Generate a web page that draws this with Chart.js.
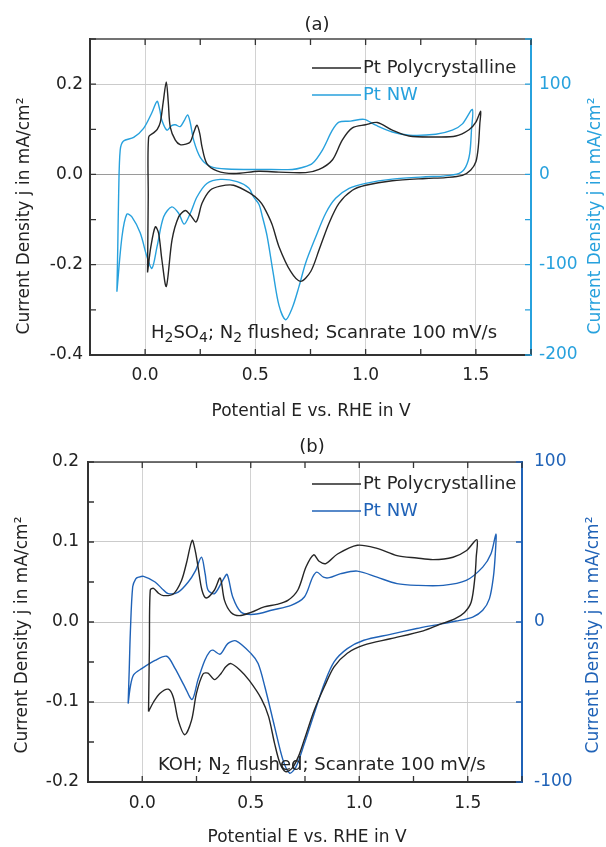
<!DOCTYPE html>
<html>
<head>
<meta charset="utf-8">
<script src="https://cdn.jsdelivr.net/npm/chart.js@4.4.1/dist/chart.umd.min.js"></script>
<style>
  html, body { margin: 0; padding: 0; background: #fff; }
  #wrap { position: relative; width: 606px; height: 847px; }
  canvas { position: absolute; left: 0; }
  #chartA { top: 0; }
  #chartB { top: 423px; }
</style>
</head>
<body>
<div id="wrap">
  <canvas id="chartA" width="606" height="423"></canvas>
  <canvas id="chartB" width="606" height="424"></canvas>
</div>
<script>
// (a) H2SO4 - Pt Polycrystalline, left axis (mA/cm2)
const potA_poly = [0.011, 0.014, 0.016, 0.038, 0.055, 0.069, 0.082, 0.096, 0.105, 0.114,
  0.137, 0.159, 0.185, 0.205, 0.222, 0.235, 0.248, 0.258, 0.280, 0.326,
  0.401, 0.516, 0.607, 0.728, 0.789, 0.849, 0.894, 0.940, 1.000, 1.053,
  1.121, 1.197, 1.318, 1.409, 1.469, 1.500, 1.522,
  1.518, 1.511, 1.500, 1.477, 1.439, 1.363, 1.272, 1.121, 1.000, 0.940,
  0.879, 0.834, 0.789, 0.751, 0.705, 0.660, 0.607, 0.575, 0.538, 0.516,
  0.477, 0.401, 0.341, 0.295, 0.258, 0.232, 0.205, 0.182, 0.152, 0.122,
  0.096, 0.076, 0.061, 0.046, 0.026, 0.011];
const jA_poly = [-0.217, -0.050, 0.083, 0.092, 0.100, 0.116, 0.160, 0.205, 0.160, 0.105,
  0.076, 0.066, 0.067, 0.072, 0.095, 0.109, 0.090, 0.061, 0.024, 0.008,
  0.002, 0.007, 0.005, 0.004, 0.011, 0.032, 0.076, 0.103, 0.110, 0.115,
  0.098, 0.085, 0.083, 0.085, 0.099, 0.116, 0.140,
  0.113, 0.061, 0.028, 0.010, -0.002, -0.007, -0.009, -0.014, -0.024, -0.035,
  -0.064, -0.108, -0.167, -0.215, -0.237, -0.215, -0.160, -0.110, -0.072, -0.057,
  -0.042, -0.024, -0.026, -0.035, -0.064, -0.105, -0.090, -0.080, -0.094, -0.145,
  -0.248, -0.189, -0.130, -0.116, -0.160, -0.217];

// (a) H2SO4 - Pt NW, right axis
const potA_nw = [-0.128, -0.124, -0.120, -0.113, -0.098, -0.052, -0.007, 0.030, 0.054, 0.066,
  0.076, 0.099, 0.120, 0.137, 0.159, 0.178, 0.193, 0.205, 0.220, 0.250,
  0.295, 0.371, 0.538, 0.667, 0.713, 0.758, 0.804, 0.849, 0.879, 0.932,
  0.993, 1.046, 1.121, 1.197, 1.318, 1.393, 1.439, 1.484,
  1.480, 1.472, 1.454, 1.424, 1.348, 1.272, 1.121, 1.000, 0.925, 0.864,
  0.819, 0.774, 0.728, 0.698, 0.667, 0.637, 0.607, 0.580, 0.553, 0.530,
  0.516, 0.492, 0.470, 0.417, 0.341, 0.280, 0.235, 0.205, 0.177, 0.152,
  0.121, 0.084, 0.054, 0.031, 0.008, -0.022, -0.060, -0.083, -0.105, -0.128];
const jA_nw = [-130, -80, -21, 27, 37, 41, 51, 68, 81, 72,
  60, 49, 54, 55, 53, 60, 66, 57, 38, 19,
  9, 6, 5.5, 5.5, 7.7, 12, 27, 49, 58, 59,
  61, 54.5, 47, 43.5, 44.5, 49, 56, 72,
  49, 23, 8.4, 1.1, -1.9, -2.6, -5.2, -9.9, -15.5, -26.5,
  -43, -69, -98, -124, -148, -161, -145, -108, -68, -45,
  -33, -25, -15, -8, -5.5, -10, -25, -43, -55, -43,
  -36, -47, -80, -104, -91, -65, -47, -44, -69, -130];

// (b) KOH - Pt Polycrystalline, left axis
const potB_poly = [0.029, 0.033, 0.037, 0.052, 0.075, 0.097, 0.143, 0.181, 0.205, 0.230,
  0.245, 0.257, 0.275, 0.295, 0.333, 0.359, 0.379, 0.409, 0.447, 0.501,
  0.562, 0.620, 0.671, 0.717, 0.755, 0.790, 0.815, 0.846, 0.900, 0.991,
  1.082, 1.174, 1.265, 1.341, 1.432, 1.493, 1.542,
  1.539, 1.533, 1.516, 1.485, 1.440, 1.371, 1.295, 1.143, 1.021, 0.945,
  0.884, 0.839, 0.793, 0.747, 0.720, 0.690, 0.660, 0.635, 0.610, 0.582,
  0.549, 0.493, 0.450, 0.409, 0.385, 0.364, 0.333, 0.303, 0.280, 0.250,
  0.227, 0.196, 0.166, 0.143, 0.120, 0.082, 0.052, 0.029];
const jB_poly = [-0.112, -0.030, 0.040, 0.042, 0.036, 0.033, 0.035, 0.052, 0.075, 0.102,
  0.088, 0.069, 0.040, 0.030, 0.040, 0.055, 0.027, 0.012, 0.008, 0.012,
  0.019, 0.022, 0.027, 0.040, 0.069, 0.084, 0.076, 0.073, 0.085, 0.096,
  0.092, 0.083, 0.080, 0.078, 0.081, 0.089, 0.103,
  0.081, 0.056, 0.025, 0.012, 0.004, -0.003, -0.011, -0.021, -0.029, -0.039,
  -0.056, -0.081, -0.110, -0.147, -0.168, -0.183, -0.187, -0.177, -0.152, -0.118,
  -0.096, -0.073, -0.060, -0.052, -0.056, -0.064, -0.072, -0.064, -0.065, -0.089,
  -0.123, -0.141, -0.123, -0.094, -0.084, -0.089, -0.100, -0.112];

// (b) KOH - Pt NW, right axis
const potB_nw = [-0.065, -0.060, -0.055, -0.044, -0.030, -0.017, 0.006, 0.059, 0.090, 0.120,
  0.166, 0.212, 0.245, 0.273, 0.290, 0.303, 0.333, 0.371, 0.391, 0.417,
  0.455, 0.516, 0.600, 0.686, 0.747, 0.785, 0.805, 0.835, 0.862, 0.915,
  0.991, 1.082, 1.174, 1.265, 1.387, 1.493, 1.569, 1.607, 1.630,
  1.627, 1.618, 1.600, 1.569, 1.523, 1.447, 1.341, 1.265, 1.143, 1.021,
  0.945, 0.884, 0.839, 0.793, 0.747, 0.709, 0.679, 0.648, 0.610, 0.565,
  0.534, 0.501, 0.432, 0.394, 0.359, 0.326, 0.311, 0.288, 0.257, 0.230,
  0.196, 0.151, 0.113, 0.059, -0.001, -0.040, -0.055, -0.065];
const jB_nw = [-51, -30, -7, 22, 27, 28, 28.5, 25, 21, 17.7,
  18.7, 25, 32, 40.5, 30, 20, 17.7, 26, 29.7, 15.6,
  6.2, 4.8, 7.5, 10.4, 15.6, 28, 31.2, 28, 27.7, 30.2,
  31.8, 28, 24, 22.9, 22.9, 26, 34.3, 42.6, 55.1,
  42.6, 28, 14.6, 7.3, 3.1, 0.6, -2.1, -4.1, -7.7, -11.4,
  -16.6, -24.9, -38.4, -57, -76, -90.4, -94.5, -86, -65.5, -40.5,
  -26, -19.7, -11.8, -13.5, -20.1, -17.6, -18.5, -24, -36, -48.4,
  -40.5, -29, -21.4, -24, -29, -33, -40.5, -51];

const seriesNames = ['Pt Polycrystalline', 'Pt NW'];
const xTitle = 'Potential E vs. RHE in V';
const yTitle = 'Current Density j in mA/cm²';

const FONT = '"DejaVu Sans", sans-serif';
const black = '#262626';
const blueA = '#27a1dd';
const blueB = '#1f62b7';

Chart.defaults.font.family = FONT;
Chart.defaults.font.size = 17;
Chart.defaults.color = '#222';

const pts = (xs, ys) => xs.map((v, i) => ({x: v, y: ys[i]}));
const onStep = (v, step) => Math.abs(Math.round(v / step) * step - v) < 1e-6;

function drawRich(ctx, parts, x, y) {
  parts.forEach(p => {
    ctx.font = (p[1] ? '14px ' : '18px ') + FONT;
    ctx.fillText(p[0], x, p[1] ? y + 5 : y);
    x += ctx.measureText(p[0]).width;
  });
}

function vText(ctx, text, x, y, color) {
  ctx.save();
  ctx.translate(x, y);
  ctx.rotate(-Math.PI / 2);
  ctx.fillStyle = color;
  ctx.fillText(text, 0, 0);
  ctx.restore();
}

// frame, inward ticks, legend and labels
const decorate = {
  id: 'decorate',
  afterDraw(chart, args, o) {
    const ctx = chart.ctx, a = chart.chartArea;
    const sx = chart.scales.x, sy = chart.scales.y, sy2 = chart.scales.y2;
    ctx.save();
    ctx.lineWidth = 1.5;
    ctx.strokeStyle = '#444';
    ctx.beginPath(); ctx.moveTo(a.left, a.top); ctx.lineTo(a.right, a.top); ctx.stroke();

    ctx.lineWidth = 1.3;
    ctx.strokeStyle = '#333';
    ctx.beginPath();
    sx.ticks.forEach(t => {
      const p = sx.getPixelForValue(t.value);
      ctx.moveTo(p, a.bottom); ctx.lineTo(p, a.bottom - 6);
      ctx.moveTo(p, a.top); ctx.lineTo(p, a.top + 6);
    });
    sy.ticks.forEach(t => {
      const p = sy.getPixelForValue(t.value);
      ctx.moveTo(a.left, p); ctx.lineTo(a.left + 6, p);
    });
    ctx.stroke();
    ctx.strokeStyle = o.blue;
    ctx.beginPath();
    sy2.ticks.forEach(t => {
      const p = sy2.getPixelForValue(t.value);
      ctx.moveTo(a.right, p); ctx.lineTo(a.right - 6, p);
    });
    ctx.stroke();

    ctx.textBaseline = 'middle';
    ctx.textAlign = 'center';
    ctx.fillStyle = '#222';
    ctx.font = '18px ' + FONT;
    ctx.fillText(o.panel, o.panelX, o.panelY);
    ctx.font = '17px ' + FONT;
    ctx.fillText(xTitle, o.xTitleX, o.xTitleY);
    vText(ctx, yTitle, o.yTitleL, o.yTitleY, '#222');
    vText(ctx, yTitle, o.yTitleR, o.yTitleY, o.blue);

    // legend
    ctx.textAlign = 'left';
    chart.data.datasets.forEach((ds, i) => {
      const ly = o.legY + i * 27;
      ctx.strokeStyle = ds.borderColor;
      ctx.lineWidth = 1.4;
      ctx.beginPath(); ctx.moveTo(312, ly); ctx.lineTo(361, ly); ctx.stroke();
      ctx.fillStyle = ds.borderColor;
      ctx.font = '18px ' + FONT;
      ctx.fillText(ds.label, 363, ly);
    });

    ctx.fillStyle = '#222';
    drawRich(ctx, o.note, o.noteX, o.noteY);
    ctx.restore();
  }
};

function makePanel(id, p) {
  return new Chart(document.getElementById(id), {
    type: 'scatter',
    data: {
      datasets: [
        { label: seriesNames[0], data: pts(p.polyX, p.polyY), yAxisID: 'y',
          borderColor: black, showLine: true, pointRadius: 0, borderWidth: 1.4, tension: 0.3 },
        { label: seriesNames[1], data: pts(p.nwX, p.nwY), yAxisID: 'y2',
          borderColor: p.blue, showLine: true, pointRadius: 0, borderWidth: 1.4, tension: 0.3 }
      ]
    },
    options: {
      responsive: false,
      animation: false,
      layout: { padding: { top: p.top, left: 0, right: 0, bottom: 0 } },
      plugins: {
        legend: { display: false },
        tooltip: { enabled: false },
        decorate: p.deco
      },
      scales: {
        x: {
          type: 'linear', min: -0.25, max: 1.75,
          ticks: { stepSize: 0.25, autoSkip: false, maxRotation: 0, padding: p.xPad,
            callback: v => onStep(v, 0.5) ? v.toFixed(1) : '' },
          grid: { drawTicks: false, color: c => onStep(c.tick.value, 0.5) ? '#d2d2d2' : 'rgba(0,0,0,0)' },
          border: { color: '#333', width: 2 },
          afterFit: s => { s.height = p.xH; }
        },
        y: {
          position: 'left', min: p.yMin, max: p.yMax,
          ticks: { stepSize: p.yStep, autoSkip: false, padding: p.yPad,
            callback: v => onStep(v, p.yMajor) ? (Math.round(v * 10) / 10).toFixed(1) : '' },
          grid: { drawTicks: false, color: c => onStep(c.tick.value, p.yMajor) ? (Math.abs(c.tick.value) < 1e-6 ? p.zeroGrid : '#cbcbcb') : 'rgba(0,0,0,0)' },
          border: { color: '#333', width: 2 },
          afterFit: s => { s.width = p.leftW; }
        },
        y2: {
          position: 'right', min: p.y2Min, max: p.y2Max,
          ticks: { stepSize: p.y2Step, autoSkip: false, padding: p.y2Pad, color: p.blue,
            callback: v => onStep(v, 100) ? String(Math.round(v)) : '' },
          grid: { drawOnChartArea: false, drawTicks: false },
          border: { color: p.blue, width: 2 },
          afterFit: s => { s.width = p.rightW; }
        }
      }
    },
    plugins: [decorate]
  });
}

makePanel('chartA', {
  polyX: potA_poly, polyY: jA_poly, nwX: potA_nw, nwY: jA_nw, blue: blueA,
  top: 39, xH: 68, leftW: 90, rightW: 75, xPad: 10, yPad: 7, y2Pad: 8,
  yMin: -0.4, yMax: 0.3, yStep: 0.1, yMajor: 0.2, zeroGrid: '#9a9a9a',
  y2Min: -200, y2Max: 150, y2Step: 50,
  deco: { blue: blueA, panel: '(a)', panelX: 317, panelY: 25, xTitleX: 311, xTitleY: 412,
    yTitleL: 25, yTitleR: 596, yTitleY: 216, legY: 68,
    note: [['H', 0], ['2', 1], ['SO', 0], ['4', 1], ['; N', 0], ['2', 1], [' flushed; Scanrate 100 mV/s', 0]],
    noteX: 151, noteY: 333 }
});

makePanel('chartB', {
  polyX: potB_poly, polyY: jB_poly, nwX: potB_nw, nwY: jB_nw, blue: blueB,
  top: 39, xH: 65, leftW: 88, rightW: 84, xPad: 11, yPad: 9, y2Pad: 12,
  yMin: -0.2, yMax: 0.2, yStep: 0.05, yMajor: 0.1, zeroGrid: '#c4c4c4',
  y2Min: -100, y2Max: 100, y2Step: 50,
  deco: { blue: blueB, panel: '(b)', panelX: 312, panelY: 24, xTitleX: 307, xTitleY: 415,
    yTitleL: 23, yTitleR: 594, yTitleY: 212, legY: 61,
    note: [['KOH; N', 0], ['2', 1], [' flushed; Scanrate 100 mV/s', 0]],
    noteX: 158, noteY: 342 }
});
</script>
</body>
</html>
